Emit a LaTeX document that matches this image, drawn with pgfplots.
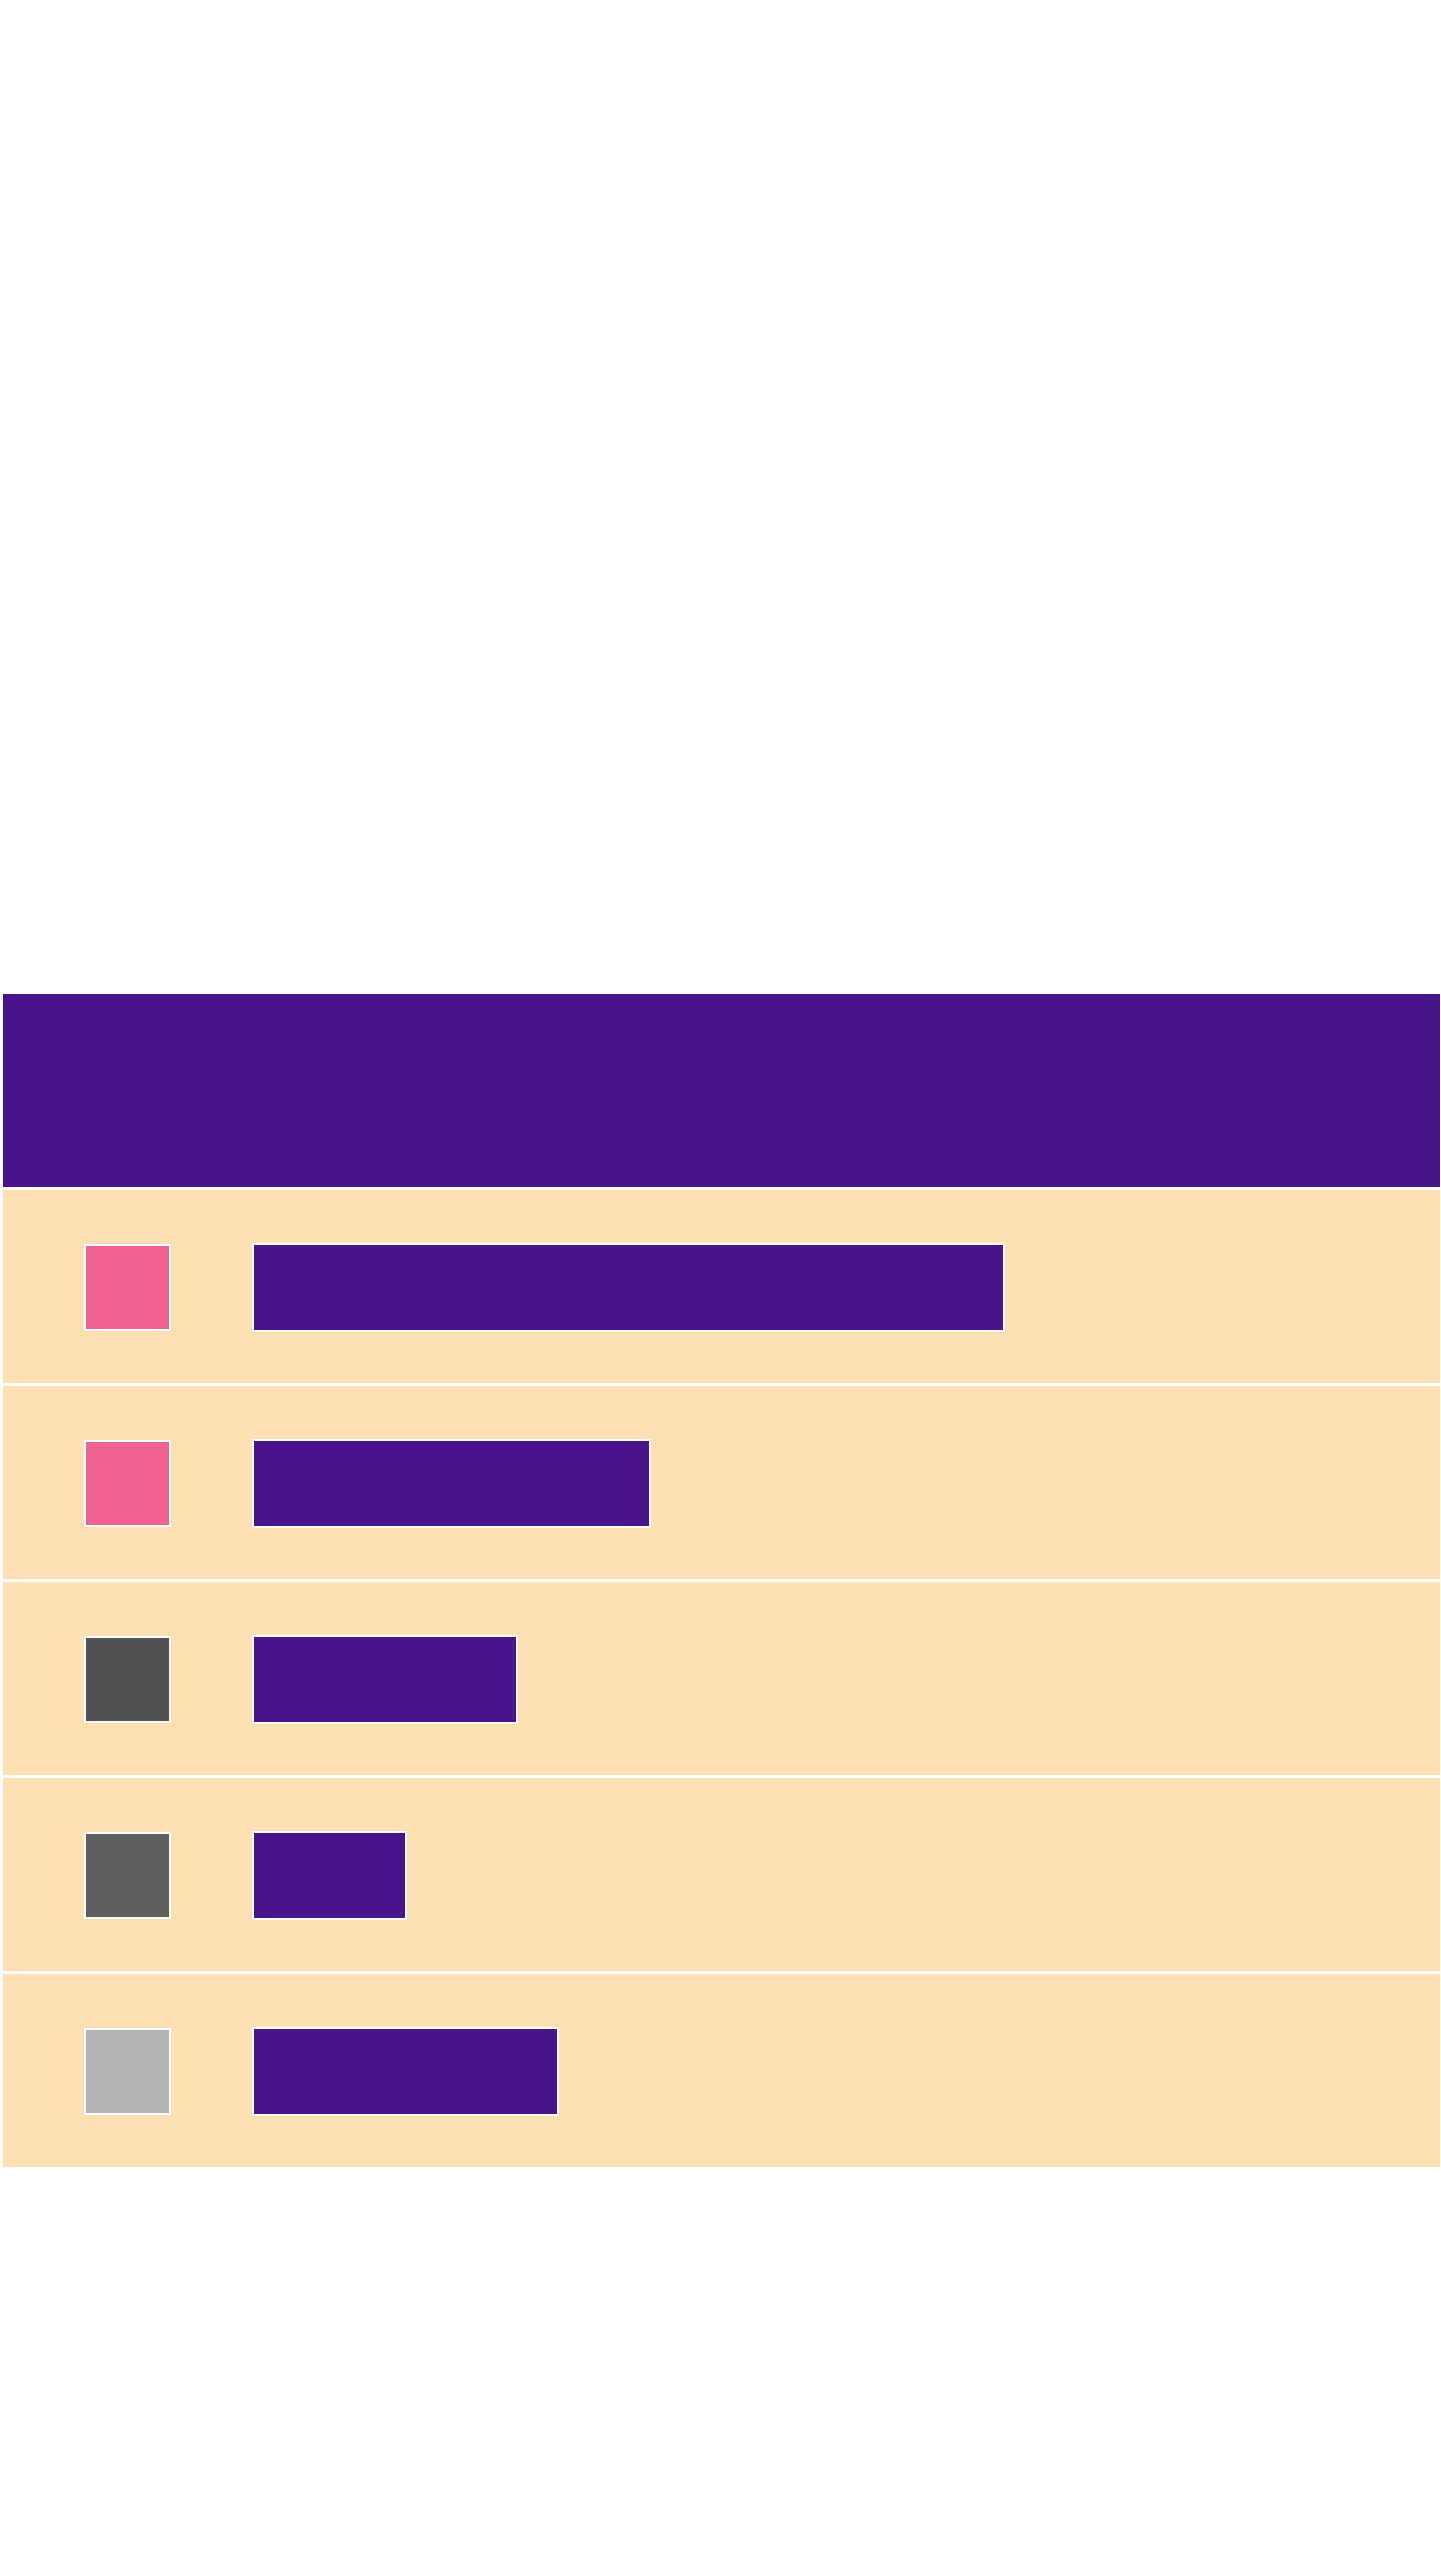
\documentclass[border=0pt]{standalone}
\usepackage{pgfplots}
\pgfplotsset{compat=1.18}
\usepackage{pgfplotstable}
\definecolor{hdr}{HTML}{4A148C}
\definecolor{rowbg}{HTML}{FFE0B2}
\definecolor{pinkc}{HTML}{F06292}
\definecolor{grayA}{HTML}{525252}
\definecolor{grayB}{HTML}{5E5E5E}
\definecolor{grayC}{HTML}{B3B3B3}
% bar lengths in pixels, measured from the bar baseline
\pgfplotstableread{
y len
1287.5 751
1483.5 397
1679.5 264
1875.5 153
2071.5 305
}\bars
\begin{document}
\begin{tikzpicture}
\begin{axis}[width=360pt, height=640pt, scale only axis, hide axis,
  xmin=-253, xmax=1187, ymin=0, ymax=2560, y dir=reverse, clip=false]
% page background
\addplot[fill=white, draw=none] coordinates {(-253,0) (1187,0) (1187,2560) (-253,2560)} -- cycle;
% header band
\addplot[fill=hdr, draw=none] coordinates {(-250,994) (1187,994) (1187,1187) (-250,1187)} -- cycle;
% row bands
\addplot[fill=rowbg, draw=none] coordinates {(-250,1190) (1187,1190) (1187,1383) (-250,1383)} -- cycle;
\addplot[fill=rowbg, draw=none] coordinates {(-250,1386) (1187,1386) (1187,1579) (-250,1579)} -- cycle;
\addplot[fill=rowbg, draw=none] coordinates {(-250,1582) (1187,1582) (1187,1775) (-250,1775)} -- cycle;
\addplot[fill=rowbg, draw=none] coordinates {(-250,1778) (1187,1778) (1187,1971) (-250,1971)} -- cycle;
\addplot[fill=rowbg, draw=none] coordinates {(-250,1974) (1187,1974) (1187,2167) (-250,2167)} -- cycle;
% value bars
\addplot[xbar, bar width=87, fill=hdr, draw=white, line width=0.5pt] table[x=len, y=y] {\bars};
% colour keys
\addplot[only marks, mark=square*, mark size=10.6pt, mark options={fill=pinkc, draw=white, line width=0.5pt}] coordinates {(-125.5,1287.5) (-125.5,1483.5)};
\addplot[only marks, mark=square*, mark size=10.6pt, mark options={fill=grayA, draw=white, line width=0.5pt}] coordinates {(-125.5,1679.5)};
\addplot[only marks, mark=square*, mark size=10.6pt, mark options={fill=grayB, draw=white, line width=0.5pt}] coordinates {(-125.5,1875.5)};
\addplot[only marks, mark=square*, mark size=10.6pt, mark options={fill=grayC, draw=white, line width=0.5pt}] coordinates {(-125.5,2071.5)};
\end{axis}
\end{tikzpicture}
\end{document}
